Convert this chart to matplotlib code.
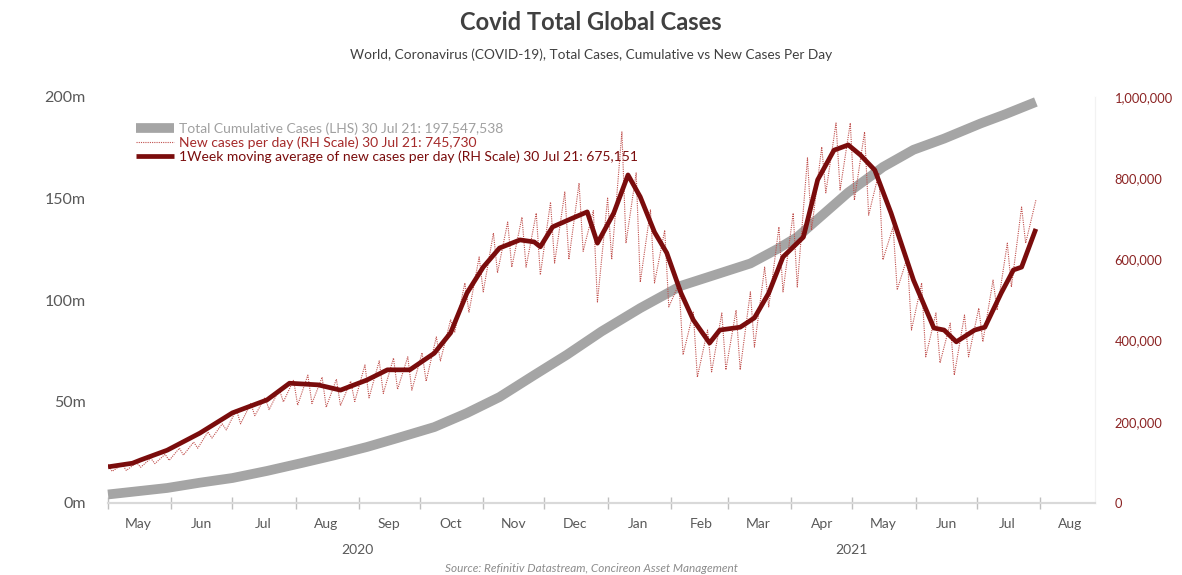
import matplotlib
matplotlib.use("Agg")
import matplotlib.pyplot as plt
import matplotlib.dates as mdates
from matplotlib.lines import Line2D
from matplotlib.ticker import FuncFormatter, FixedLocator
import numpy as np
import pandas as pd

plt.rcParams['font.family'] = ['Lato', 'DejaVu Sans']

# total cumulative cases (millions)
cum_dates = ["2020-05-01", "2020-05-30", "2020-06-15", "2020-07-01", "2020-07-18",
             "2020-08-04", "2020-08-20", "2020-09-05", "2020-09-20", "2020-10-08",
             "2020-10-24", "2020-11-09", "2020-11-26", "2020-12-12", "2020-12-29",
             "2021-01-17", "2021-02-06", "2021-03-12", "2021-03-25", "2021-04-04",
             "2021-04-29", "2021-05-10", "2021-05-16", "2021-05-31", "2021-06-15",
             "2021-07-03", "2021-07-15", "2021-07-30"]
cum_vals = [4.2, 7.4, 10.0, 12.3, 15.8, 19.7, 23.5, 27.6, 32.0, 37.4,
            44.3, 52.2, 63.0, 73.0, 84.5, 96.0, 107.0, 118.0, 125.0, 131.0,
            153.0, 161.0, 165.5, 174.0, 179.5, 187.0, 191.5, 197.55]

# 1 week moving average of new cases (thousands)
ma_dates = ["2020-05-01", "2020-05-13", "2020-05-17", "2020-05-30", "2020-06-15",
            "2020-07-01", "2020-07-18", "2020-07-29", "2020-08-12", "2020-08-23",
            "2020-09-05", "2020-09-15", "2020-09-26", "2020-10-08", "2020-10-16",
            "2020-10-24", "2020-11-01", "2020-11-09", "2020-11-19", "2020-11-26",
            "2020-11-29", "2020-12-05", "2020-12-15", "2020-12-22", "2020-12-27",
            "2021-01-04", "2021-01-11", "2021-01-17", "2021-01-24", "2021-01-30",
            "2021-02-06", "2021-02-12", "2021-02-20", "2021-02-25", "2021-03-07",
            "2021-03-14", "2021-03-21", "2021-03-28", "2021-04-07", "2021-04-14",
            "2021-04-22", "2021-04-29", "2021-05-05", "2021-05-12", "2021-05-20",
            "2021-05-31", "2021-06-10", "2021-06-15", "2021-06-21", "2021-06-30",
            "2021-07-05", "2021-07-13", "2021-07-19", "2021-07-23", "2021-07-30"]
ma_vals = [89, 98, 106, 130, 172, 222, 254, 295, 291, 278,
           303, 328, 328, 369, 419, 517, 581, 628, 648, 643,
           631, 680, 702, 717, 640, 714, 808, 754, 667, 616,
           517, 451, 394, 426, 433, 456, 517, 606, 655, 796,
           869, 882, 857, 820, 714, 549, 431, 426, 397, 426,
           433, 517, 574, 581, 675.151]

# new cases per day (thousands): weekly highs (Fridays from 1 May 2020)
# and weekly lows (Sundays from 3 May 2020)
fri_highs = [95, 95, 100, 110, 120, 135, 150, 175, 195, 230,
             245, 260, 280, 303, 315, 310, 305, 300, 340, 350,
             357, 360, 370, 409, 451, 542, 606, 665, 692, 704,
             714, 741, 766, 788, 720, 751, 914, 813, 722, 672,
             540, 470, 426, 468, 475, 520, 581, 680, 714, 850,
             877, 936, 936, 914, 813, 680, 606, 542, 468, 443,
             463, 480, 549, 640, 729, 745.73]
sun_lows = [78, 80, 88, 97, 105, 118, 135, 160, 180, 195,
            215, 230, 249, 241, 245, 236, 240, 250, 259, 270,
            280, 278, 300, 350, 420, 470, 520, 567, 581, 581,
            562, 591, 600, 620, 495, 600, 640, 544, 542, 483,
            365, 310, 323, 328, 328, 384, 483, 520, 532, 672,
            764, 771, 746, 709, 599, 525, 426, 360, 345, 315,
            360, 397, 475, 532, 640]

month_labels = ["May", "Jun", "Jul", "Aug", "Sep", "Oct", "Nov", "Dec",
                "Jan", "Feb", "Mar", "Apr", "May", "Jun", "Jul", "Aug"]

GRAY = "#a5a5a5"
RED = "#c0504d"
DARK = "#7a0c0c"
TXT = "#595959"

cum = pd.Series(cum_vals, index=pd.to_datetime(cum_dates)) * 1e6
ma = pd.Series(ma_vals, index=pd.to_datetime(ma_dates)) * 1e3
hi = pd.Series(fri_highs, index=pd.date_range("2020-05-01", periods=len(fri_highs), freq="7D"))
lo = pd.Series(sun_lows, index=pd.date_range("2020-05-03", periods=len(sun_lows), freq="7D"))
daily = pd.concat([hi, lo]).sort_index() * 1e3

fig = plt.figure(figsize=(11.82, 5.75), dpi=100)
ax = fig.add_axes([108 / 1182, 1 - 503 / 575, (1095 - 108) / 1182, (503 - 97) / 575])
ax2 = ax.twinx()

ax.plot(cum.index, cum.values, color=GRAY, lw=7, solid_capstyle="butt",
        solid_joinstyle="round", clip_on=False)
ax2.plot(daily.index, daily.values, color=RED, lw=0.8, ls=(0, (1, 1)))
ax2.plot(ma.index, ma.values, color=DARK, lw=3.4, solid_capstyle="butt", solid_joinstyle="round")

ax.set_xlim(pd.Timestamp("2020-05-01"), pd.Timestamp("2021-08-28"))
ax.set_ylim(0, 200e6)
ax2.set_ylim(0, 1e6)

ax.set_yticks([0, 50e6, 100e6, 150e6, 200e6])
ax.yaxis.set_major_formatter(FuncFormatter(lambda v, p: f"{v / 1e6:.0f}m"))
ax.tick_params(axis="y", length=0, pad=16, labelsize=11.5, labelcolor=TXT)
ax2.set_yticks([0, 200e3, 400e3, 600e3, 800e3, 1e6])
ax2.yaxis.set_major_formatter(FuncFormatter(lambda v, p: f"{v:,.0f}"))
ax2.tick_params(axis="y", length=0, pad=14, labelsize=9.3, labelcolor="#8b2323")

month_starts = pd.date_range("2020-05-01", "2021-08-01", freq="MS")
mids = month_starts + pd.Timedelta(days=15)
ax.xaxis.set_major_locator(FixedLocator(mdates.date2num(month_starts)))
ax.xaxis.set_major_formatter(FuncFormatter(lambda v, p: ""))
ax.xaxis.set_minor_locator(FixedLocator(mdates.date2num(mids)))
ax.xaxis.set_minor_formatter(FuncFormatter(lambda v, p: month_labels[p] if p < len(month_labels) else ""))
ax.tick_params(axis="x", which="major", direction="inout", length=9, width=1, color="#bfbfbf")
ax.tick_params(axis="x", which="minor", length=0, pad=11, labelsize=10, labelcolor=TXT)

for a in (ax, ax2):
    for s in ("top", "left"):
        a.spines[s].set_visible(False)
    a.spines["bottom"].set_color("#d9d9d9")
    a.spines["bottom"].set_linewidth(1.5)
    a.spines["right"].set_color("#f2f2f2")

ax.text(0.5 * (mdates.date2num(pd.Timestamp("2020-05-01")) + mdates.date2num(pd.Timestamp("2021-01-01"))),
        -0.115, "2020", transform=ax.get_xaxis_transform(), ha="center", va="center",
        fontsize=10, color=TXT)
ax.text(0.5 * (mdates.date2num(pd.Timestamp("2021-01-01")) + mdates.date2num(pd.Timestamp("2021-08-28"))),
        -0.115, "2021", transform=ax.get_xaxis_transform(), ha="center", va="center",
        fontsize=10, color=TXT)

handles = [Line2D([], [], color=GRAY, lw=7, solid_capstyle="butt"),
           Line2D([], [], color=RED, lw=0.8, ls=(0, (1, 1))),
           Line2D([], [], color=DARK, lw=3.4, solid_capstyle="butt")]
labels = ["Total Cumulative Cases (LHS) 30 Jul 21: 197,547,538",
          "New cases per day (RH Scale) 30 Jul 21: 745,730",
          "1Week moving average of new cases per day (RH Scale) 30 Jul 21: 675,151"]
ax2.legend(handles, labels, loc="upper left", bbox_to_anchor=(0.02, 0.957), frameon=False,
           fontsize=10, handlelength=2.7, handletextpad=0.4, labelspacing=0.08,
           borderaxespad=0.2, labelcolor=["#a0a0a0", "#a52a2a", DARK])

fig.text(0.5, 1 - 23 / 575, "Covid Total Global Cases", ha="center", va="center",
         fontsize=17, fontweight="bold", color="#404040")
fig.text(0.5, 1 - 55 / 575, "World, Coronavirus (COVID-19), Total Cases, Cumulative vs New Cases Per Day",
         ha="center", va="center", fontsize=9.8, color="#404040")
fig.text(0.5, 1 - 569 / 575, "Source: Refinitiv Datastream, Concireon Asset Management",
         ha="center", va="center", fontsize=8.5, style="italic", color="#8c8c8c")

fig.savefig("out.png", dpi=100)
